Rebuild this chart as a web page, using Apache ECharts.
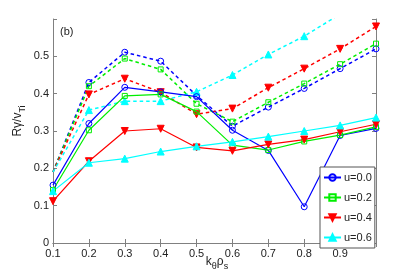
<!DOCTYPE html>
<html><head><meta charset="utf-8">
<script src="https://cdn.jsdelivr.net/npm/echarts@6/dist/echarts.min.js"></script>
<style>html,body{margin:0;padding:0;background:#fff}#c{width:415px;height:273px}</style>
</head><body><div id="c"></div>
<script>
var kTheta = [0.1, 0.2, 0.3, 0.4, 0.5, 0.6, 0.7, 0.8, 0.9, 1.0];
var xTicks = ['0.1','0.2','0.3','0.4','0.5','0.6','0.7','0.8','0.9'];
var yTicks = ['0','0.1','0.2','0.3','0.4','0.5'];
var names = ['u=0.0','u=0.2','u=0.4','u=0.6'];
var solid00 = [0.155, 0.320, 0.417, 0.405, 0.392, 0.302, 0.248, 0.097, 0.288, 0.307];
var solid02 = [0.142, 0.302, 0.394, 0.398, 0.352, 0.262, 0.249, 0.272, 0.289, 0.311];
var solid04 = [0.112, 0.219, 0.300, 0.306, 0.256, 0.247, 0.264, 0.277, 0.298, 0.318];
var solid06 = [0.139, 0.215, 0.226, 0.245, 0.259, 0.271, 0.285, 0.300, 0.315, 0.336];
var dash00 = [0.190, 0.430, 0.511, 0.487, 0.395, 0.313, 0.364, 0.414, 0.467, 0.520];
var dash02 = [0.190, 0.420, 0.494, 0.465, 0.373, 0.325, 0.377, 0.427, 0.479, 0.534];
var dash04 = [0.190, 0.398, 0.440, 0.404, 0.345, 0.360, 0.416, 0.467, 0.520, 0.580];
var dash06 = [0.190, 0.356, 0.380, 0.380, 0.405, 0.450, 0.505, 0.554, 0.613, 0.672];

var colors = ['#0000ff', '#00ee00', '#ff0000', '#00ffff'];
var symbols = ['circle', 'rect', 'triangle', 'triangle'];
var rotates = [0, 0, 180, 0];
var filled = [false, false, true, true];
var sizes = [6, 5, 7, 7];
var solids = [solid00, solid02, solid04, solid06];
var dashes = [dash00, dash02, dash04, dash06];
var FONT = 'Liberation Sans';

function pts(arr, hideFirst) {
  return kTheta.map(function (k, i) {
    var item = { value: [k, arr[i]] };
    if (hideFirst && i === 0) item.symbol = 'none';
    return item;
  });
}

var series = [];
for (var s = 0; s < 4; s++) {
  var it = {
    color: filled[s] ? colors[s] : 'rgba(255,255,255,0)',
    borderColor: colors[s], borderWidth: 1
  };
  series.push({
    name: names[s] + ' dashed', type: 'line', data: pts(dashes[s], true),
    symbol: symbols[s], symbolRotate: rotates[s], symbolSize: sizes[s], showAllSymbol: true,
    lineStyle: { color: colors[s], width: 1.5, type: [3.5, 3] }, itemStyle: it,
    emphasis: { disabled: true }, z: 2, animation: false
  });
}
for (var s2 = 0; s2 < 4; s2++) {
  var it2 = {
    color: filled[s2] ? colors[s2] : 'rgba(255,255,255,0)',
    borderColor: colors[s2], borderWidth: 1
  };
  series.push({
    name: names[s2], type: 'line', data: pts(solids[s2], false),
    symbol: symbols[s2], symbolRotate: rotates[s2], symbolSize: sizes[s2], showAllSymbol: true,
    lineStyle: { color: colors[s2], width: 1.2 }, itemStyle: it2,
    emphasis: { disabled: true }, z: 3, animation: false
  });
}

var axisCol = '#808080';
var chart = echarts.init(document.getElementById('c'), null, { renderer: 'canvas' });
chart.setOption({
  animation: false,
  backgroundColor: '#ffffff',
  grid: { left: 53, right: 39, top: 19, bottom: 30, containLabel: false },
  xAxis: [{
    type: 'value', min: 0.1, max: 1.0, interval: 0.1,
    axisLine: { lineStyle: { color: axisCol, width: 1 } },
    axisTick: { inside: true, length: 4, lineStyle: { color: axisCol } },
    splitLine: { show: false },
    axisLabel: {
      color: '#222', fontFamily: FONT, fontSize: 11, margin: 5,
      formatter: function (v) { var i = Math.round(v * 10) - 1; return xTicks[i] !== undefined ? xTicks[i] : ''; }
    }
  }, {
    type: 'value', position: 'top', min: 0.1, max: 1.0, interval: 0.1,
    axisLine: { lineStyle: { color: axisCol, width: 1 } },
    axisTick: { inside: true, length: 4, lineStyle: { color: axisCol } },
    axisLabel: { show: false }, splitLine: { show: false }
  }],
  yAxis: [{
    type: 'value', min: 0, max: 0.6, interval: 0.1,
    axisLine: { show: true, lineStyle: { color: axisCol, width: 1 } },
    axisTick: { show: true, inside: true, length: 4, lineStyle: { color: axisCol } },
    splitLine: { show: false },
    axisLabel: {
      color: '#222', fontFamily: FONT, fontSize: 11, margin: 4,
      formatter: function (v) { var i = Math.round(v * 10); return yTicks[i] !== undefined ? yTicks[i] : ''; }
    }
  }, {
    type: 'value', position: 'right', min: 0, max: 0.6, interval: 0.1,
    axisLine: { show: true, lineStyle: { color: axisCol, width: 1 } },
    axisTick: { show: true, inside: true, length: 4, lineStyle: { color: axisCol } },
    axisLabel: { show: false }, splitLine: { show: false }
  }],
  legend: {
    data: names, orient: 'vertical', left: 320, top: 167,
    padding: [5, 3, 5, 3], itemWidth: 17, itemHeight: 8, itemGap: 9,
    backgroundColor: '#ffffff', borderColor: '#555', borderWidth: 1, borderRadius: 0,
    textStyle: { fontFamily: FONT, fontSize: 11, color: '#222', padding: [0, 0, 0, -2] },
    selectedMode: false
  },
  graphic: [
    { type: 'text', left: 60, top: 26, style: { text: '(b)', font: '11px "Liberation Sans"', fill: '#222' } },
    { type: 'text', x: 18, y: 121, rotation: Math.PI / 2,
      style: { text: '{a|R\u03b3/v}{s|Ti}', align: 'center', verticalAlign: 'middle', fill: '#222',
        rich: { a: { fontFamily: FONT, fontSize: 12, lineHeight: 18, verticalAlign: 'middle' },
                s: { fontFamily: FONT, fontSize: 9, lineHeight: 18, verticalAlign: 'bottom' } } } },
    { type: 'text', x: 217, y: 262,
      style: { text: '{a|k}{s|\u03b8}{a|\u03c1}{s|s}', align: 'center', verticalAlign: 'middle', fill: '#222',
        rich: { a: { fontFamily: FONT, fontSize: 12, lineHeight: 18, verticalAlign: 'middle' },
                s: { fontFamily: FONT, fontSize: 9, lineHeight: 18, verticalAlign: 'bottom' } } } }
  ],
  series: series
});
</script></body></html>
